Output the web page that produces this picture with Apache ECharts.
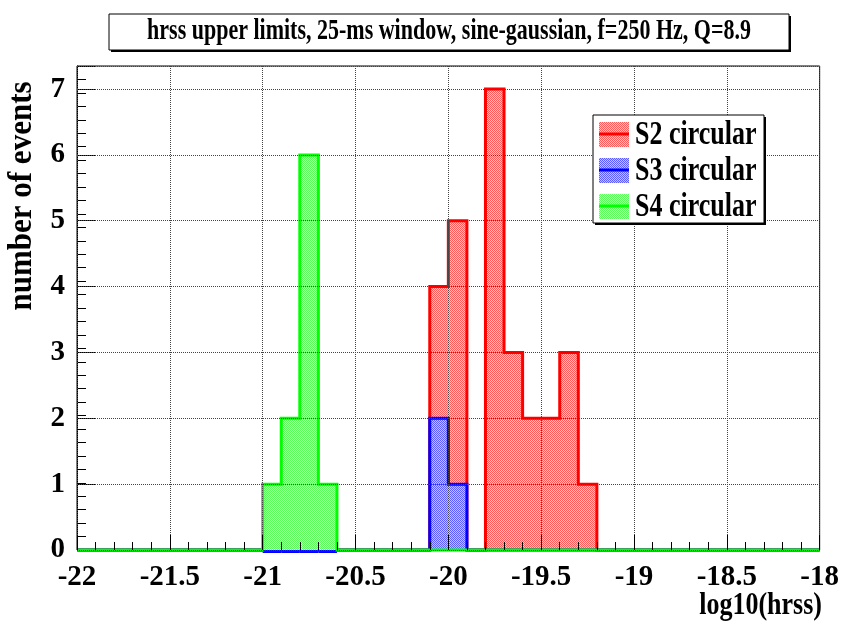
<!DOCTYPE html>
<html>
<head>
<meta charset="utf-8">
<script src="https://cdn.jsdelivr.net/npm/echarts@6/dist/echarts.min.js"></script>
<style>
  html, body { margin: 0; padding: 0; background: #fff; }
  #chart { width: 842px; height: 626px; }
</style>
</head>
<body>
<div id="chart"></div>
<script>
// Histogram binning: 40 bins of width 0.1 on log10(hrss) from -22 to -18
const binStart = -22;
const binWidth = 0.1;
const binCount = 40;

// Event counts per bin
const s2Counts = [0,0,0,0,0,0,0,0,0,0, 0,0,0,0,0,0,0,0,0,4, 5,0,7,3,2,2,3,1,0,0, 0,0,0,0,0,0,0,0,0,0];
const s3Counts = [0,0,0,0,0,0,0,0,0,0, 0,0,0,0,0,0,0,0,0,2, 1,0,0,0,0,0,0,0,0,0, 0,0,0,0,0,0,0,0,0,0];
const s4Counts = [0,0,0,0,0,0,0,0,0,0, 1,2,6,1,0,0,0,0,0,0, 0,0,0,0,0,0,0,0,0,0, 0,0,0,0,0,0,0,0,0,0];

const seriesNames = ['S2 circular', 'S3 circular', 'S4 circular'];
const seriesCounts = [s2Counts, s3Counts, s4Counts];

const titleText = 'hrss upper limits, 25-ms window, sine-gaussian, f=250 Hz, Q=8.9';
const xTitle = 'log10(hrss)';
const yTitle = 'number of events';

// Styling
const lineColors = ['#ff0000', '#0000ff', '#00ff00'];
const stippleOn = ['#ff5a5a', '#5a5aff', '#5aff5a'];
const stippleOff = ['#ffc4c4', '#c4c4ff', '#c4ffc4'];
const FONT = 'Liberation Serif';

// Checkered hatch fill, like a 50% stipple pattern
function stipple(k) {
  const c = document.createElement('canvas');
  c.width = 2; c.height = 2;
  const g = c.getContext('2d');
  g.fillStyle = stippleOff[k];
  g.fillRect(0, 0, 2, 2);
  g.fillStyle = stippleOn[k];
  g.fillRect(0, 0, 1, 1);
  g.fillRect(1, 1, 1, 1);
  return { image: c, repeat: 'repeat' };
}

// Step outline points of a histogram: along every bin top, dropping at edges
function stepPoints(counts) {
  const pts = [];
  for (let i = 0; i < binCount; i++) {
    const lo = +(binStart + i * binWidth).toFixed(2);
    const hi = +(binStart + (i + 1) * binWidth).toFixed(2);
    pts.push([lo, counts[i]], [hi, counts[i]]);
  }
  return pts;
}

const histSeries = seriesCounts.map((counts, k) => ({
  name: seriesNames[k],
  type: 'line',
  xAxisIndex: 0,
  yAxisIndex: 0,
  data: stepPoints(counts),
  symbol: 'none',
  clip: false,
  z: 2 + k,
  lineStyle: { color: lineColors[k], width: 3, join: 'miter' },
  areaStyle: { color: stipple(k), opacity: 1 },
  silent: true,
  animation: false
}));

// Bins where S4 is filled: S3's zero-level edge peeks out just below the S4 baseline
const s3BaseSpans = [];
s4Counts.forEach((v, i) => {
  if (v > 0) s3BaseSpans.push([binStart + i * binWidth, binStart + (i + 1) * binWidth]);
});

const baseSeries = {
  type: 'custom',
  xAxisIndex: 0,
  yAxisIndex: 0,
  z: 1,
  silent: true,
  data: s3BaseSpans,
  renderItem: function (params, api) {
    const a = api.coord([api.value(0), 0]);
    const b = api.coord([api.value(1), 0]);
    return {
      type: 'line',
      shape: { x1: a[0], y1: a[1] + 2, x2: b[0], y2: b[1] + 2 },
      style: { stroke: lineColors[1], lineWidth: 2 }
    };
  },
  animation: false
};

const chart = echarts.init(document.getElementById('chart'), null, { renderer: 'canvas' });

const gridRect = { left: 77, top: 66, right: 20, bottom: 76 };
const legendBox = { x: 593, y: 115, w: 171, h: 108 };

const legendItems = [];
seriesNames.forEach((name, k) => {
  const cy = legendBox.y + 19 + k * 36;
  legendItems.push(
    { type: 'rect', shape: { x: legendBox.x + 6, y: cy - 12, width: 30, height: 25 },
      style: { fill: stipple(k) }, z: 101 },
    { type: 'line', shape: { x1: legendBox.x + 6, y1: cy, x2: legendBox.x + 36, y2: cy },
      style: { stroke: lineColors[k], lineWidth: 3 }, z: 102 },
    { type: 'text', x: legendBox.x + 42, y: cy + 1, scaleY: 1.3,
      style: { text: name, font: 'bold 26px "' + FONT + '"', fill: '#000', textVerticalAlign: 'middle' },
      z: 102 }
  );
});

const tickLabelStyle = { color: '#000', fontFamily: FONT, fontWeight: 'bold', fontSize: 29 };
const dotted = { color: '#444', type: 'dotted', width: 1 };

const option = {
  backgroundColor: '#fff',
  animation: false,
  grid: {
    left: gridRect.left, top: gridRect.top, right: gridRect.right, bottom: gridRect.bottom,
    show: true, borderColor: '#000', borderWidth: 1, backgroundColor: 'transparent'
  },
  xAxis: [{
    type: 'value', min: -22, max: -18, interval: 0.5, z: 10,
    axisLine: { show: false },
    axisTick: { show: true, inside: true, length: 15, lineStyle: { color: '#000', width: 1 } },
    minorTick: { show: true, splitNumber: 5, length: 8, lineStyle: { color: '#000', width: 1 } },
    splitLine: { show: true, lineStyle: dotted },
    axisLabel: Object.assign({ show: true, margin: 13, formatter: v => String(v),
      showMinLabel: true, showMaxLabel: true }, tickLabelStyle)
  }],
  yAxis: [{
    // grid lines and labels, drawn above the histograms
    type: 'value', min: 0, max: 7.35, interval: 1, z: 10,
    axisLine: { show: false },
    axisTick: { show: false },
    splitLine: { show: true, lineStyle: dotted },
    axisLabel: Object.assign({ show: true, margin: 12,
      formatter: v => (Math.abs(v - Math.round(v)) < 1e-9 ? String(Math.round(v)) : '') }, tickLabelStyle)
  }, {
    // major ticks and axis line, beneath the histograms
    type: 'value', min: 0, max: 7.35, interval: 1, z: 0, position: 'left',
    axisLine: { show: true, lineStyle: { color: '#000', width: 1 } },
    axisTick: { show: true, inside: true, length: 19, lineStyle: { color: '#000', width: 1 } },
    splitLine: { show: false },
    axisLabel: { show: false }
  }, {
    // minor ticks
    type: 'value', min: 0, max: 7.2, interval: 0.2, z: 0, position: 'left',
    axisLine: { show: false },
    axisTick: { show: true, inside: true, length: 9, lineStyle: { color: '#000', width: 1 } },
    splitLine: { show: false },
    axisLabel: { show: false }
  }],
  graphic: [
    // title box with drop shadow
    { type: 'rect', shape: { x: 111, y: 16, width: 680, height: 36 }, style: { fill: '#000' }, z: 99 },
    { type: 'rect', shape: { x: 109, y: 14, width: 680, height: 36 },
      style: { fill: '#fff', stroke: '#000', lineWidth: 1 }, z: 100 },
    { type: 'text', x: 449, y: 32, scaleY: 1.3,
      style: { text: titleText, font: 'bold 22px "' + FONT + '"', fill: '#000',
        textAlign: 'center', textVerticalAlign: 'middle' }, z: 101 },
    // axis titles
    { type: 'text', x: 22, y: 196, rotation: Math.PI / 2, scaleY: 1.1,
      style: { text: yTitle, font: 'bold 31px "' + FONT + '"', fill: '#000',
        textAlign: 'center', textVerticalAlign: 'middle' }, z: 101 },
    { type: 'text', x: 822, y: 606, scaleY: 1.25,
      style: { text: xTitle, font: 'bold 26px "' + FONT + '"', fill: '#000',
        textAlign: 'right', textVerticalAlign: 'middle' }, z: 101 },
    // legend box
    { type: 'rect', shape: { x: legendBox.x + 2, y: legendBox.y + 2, width: legendBox.w, height: legendBox.h },
      style: { fill: '#000' }, z: 99 },
    { type: 'rect', shape: { x: legendBox.x, y: legendBox.y, width: legendBox.w, height: legendBox.h },
      style: { fill: '#fff', stroke: '#000', lineWidth: 1 }, z: 100 },
    ...legendItems
  ],
  series: [...histSeries, baseSeries]
};

chart.setOption(option);
</script>
</body>
</html>
